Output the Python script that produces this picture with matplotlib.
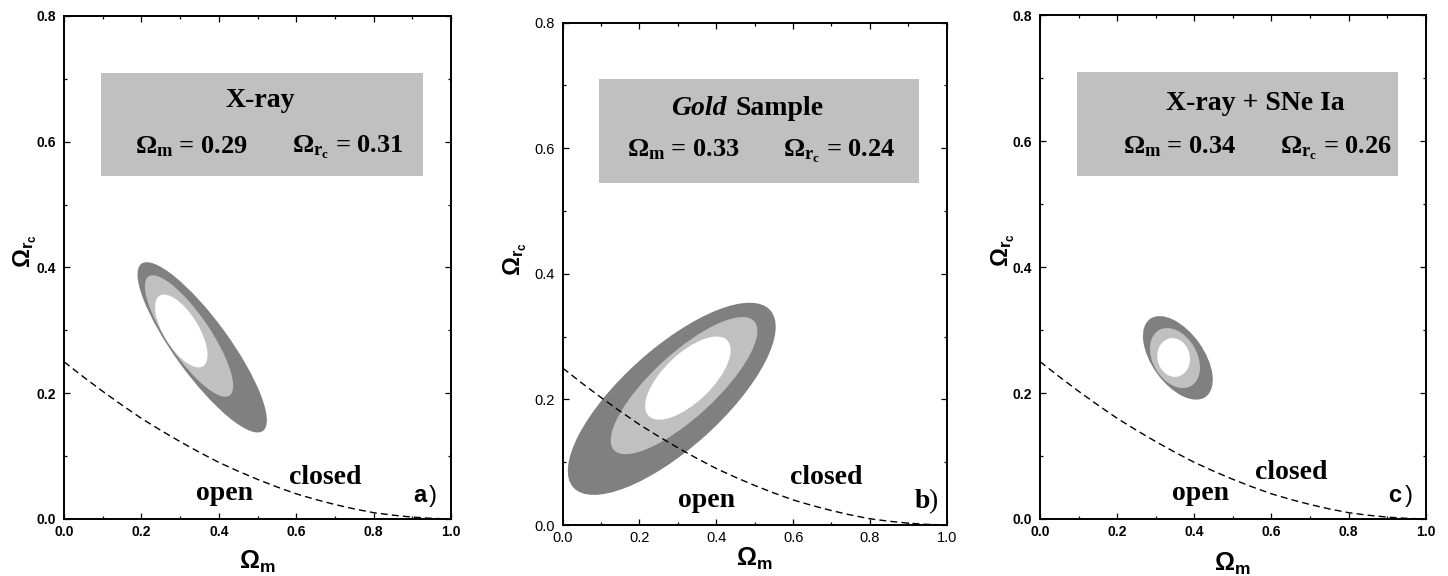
import numpy as np
from matplotlib import pyplot as plt
from matplotlib.patches import Ellipse, Rectangle
from matplotlib.transforms import Affine2D

plt.rcParams['font.family'] = 'Liberation Sans'
plt.rcParams['mathtext.fontset'] = 'custom'
plt.rcParams['mathtext.rm'] = 'Liberation Serif'
plt.rcParams['mathtext.bf'] = 'Liberation Serif:bold'
plt.rcParams['mathtext.it'] = 'Liberation Serif:italic'
plt.rcParams['mathtext.sf'] = 'Liberation Sans:bold'

# flat-universe boundary (dashed)
flat_om = [0.0, 0.05, 0.1, 0.15, 0.2, 0.25, 0.3, 0.35, 0.4, 0.45, 0.5,
           0.55, 0.6, 0.65, 0.7, 0.75, 0.8, 0.85, 0.9, 0.95, 1.0]
flat_orc = [0.250, 0.226, 0.203, 0.181, 0.160, 0.141, 0.123, 0.106, 0.090, 0.076, 0.063,
            0.051, 0.040, 0.031, 0.023, 0.016, 0.010, 0.006, 0.003, 0.001, 0.0]

# confidence regions: outer (dark), middle (light), inner (white)
# centre (Omega_m, Omega_rc), semi-axes in Omega_m units, tilt on screen (deg)
a_cx = [0.357, 0.323, 0.303]
a_cy = [0.273, 0.291, 0.299]
a_semi1 = [0.267, 0.186, 0.107]
a_semi2 = [0.071, 0.055, 0.045]
a_tilt = [-54.0, -55.8, -58.5]

b_cx = [0.284, 0.316, 0.326]
b_cy = [0.201, 0.222, 0.234]
b_semi1 = [0.345, 0.248, 0.142]
b_semi2 = [0.130, 0.083, 0.063]
b_tilt = [42.0, 42.6, 43.8]

c_cx = [0.3575, 0.350, 0.3466]
c_cy = [0.2559, 0.2556, 0.2565]
c_semi1 = [0.124, 0.0835, 0.0506]
c_semi2 = [0.0674, 0.0573, 0.042]
c_tilt = [-54.5, -60.0, -78.0]

best_om = [0.29, 0.33, 0.34]
best_orc = [0.31, 0.24, 0.26]
titles = ['X-ray', 'Sample', 'X-ray + SNe Ia']
tags = ['a', 'b', 'c']

xt = [0.0, 0.2, 0.4, 0.6, 0.8, 1.0]
yt = [0.0, 0.2, 0.4, 0.6, 0.8]

W, H = 1448, 576


def panel(ax, cx, cy, s1, s2, tilt, bold):
    ax.set_xlim(0, 1.0)
    ax.set_ylim(0, 0.8)
    pos = ax.get_position()
    k = (pos.height * H / 0.8) / (pos.width * W)   # y pixels per unit / x pixels per unit
    for i, col in enumerate(['#808080', '#c0c0c0', 'white']):
        tr = Affine2D().scale(1, 1 / k).translate(cx[i], cy[i]) + ax.transData
        ax.add_patch(Ellipse((0, 0), 2 * s1[i], 2 * s2[i], angle=tilt[i],
                             facecolor=col, edgecolor='none', transform=tr, zorder=2))
    ax.plot(flat_om, flat_orc, color='black', lw=1.0, ls=(0, (5, 3)), zorder=3)
    ax.add_patch(Rectangle((0.095, 0.545), 0.832, 0.165, facecolor='#c0c0c0',
                           edgecolor='none', zorder=1))
    w = 'bold' if bold else 'normal'
    fs = 10 if bold else 10.5
    ax.set_xticks(xt, ['%.1f' % v for v in xt], fontweight=w, fontsize=fs)
    ax.set_yticks(yt, ['%.1f' % v for v in yt], fontweight=w, fontsize=fs)
    ax.set_xticks(np.arange(0.1, 1.0, 0.2), minor=True)
    ax.set_yticks(np.arange(0.1, 0.8, 0.2), minor=True)
    ax.tick_params(which='both', direction='in', top=True, right=True, width=0.9)
    ax.tick_params(which='major', length=4.5, pad=4)
    ax.tick_params(which='minor', length=2.5)
    ax.tick_params(axis='y', pad=5.5)
    for s in ax.spines.values():
        s.set_linewidth(1.4)


fig = plt.figure(figsize=(W / 100, H / 100), dpi=100)
ax1 = fig.add_axes([0.0442, 0.0990, 0.2673, 0.8733])
ax2 = fig.add_axes([0.3886, 0.0885, 0.2652, 0.8721])
ax3 = fig.add_axes([0.7182, 0.0990, 0.2664, 0.8744])
axes = [ax1, ax2, ax3]

panel(ax1, a_cx, a_cy, a_semi1, a_semi2, a_tilt, True)
panel(ax2, b_cx, b_cy, b_semi1, b_semi2, b_tilt, False)
panel(ax3, c_cx, c_cy, c_semi1, c_semi2, c_tilt, True)

serif = 'Liberation Serif'
# box titles
ax1.text(0.507, 0.655, titles[0], family=serif, weight='bold', fontsize=20,
         ha='center', va='baseline', zorder=4)
ax2.text(0.427, 0.653, 'Gold', family=serif, weight='bold', style='italic', fontsize=20,
         ha='right', va='baseline', zorder=4)
ax2.text(0.449, 0.653, titles[1], family=serif, weight='bold', fontsize=20,
         ha='left', va='baseline', zorder=4)
ax3.text(0.558, 0.649, titles[2], family=serif, weight='bold', fontsize=20,
         ha='center', va='baseline', zorder=4)

# best fit values
val_pos = [(0.184, 0.589, 0.582), (0.167, 0.575, 0.587), (0.214, 0.621, 0.580)]
for ax, om, orc, (x1, x2, yb) in zip(axes, best_om, best_orc, val_pos):
    ax.text(x1, yb, r'$\mathbf{\Omega_m}$ = %.2f' % om, family=serif, weight='bold',
            fontsize=19, ha='left', va='baseline', zorder=4)
    ax.text(x2, yb, r'$\mathbf{\Omega_{r_c}}$ = %.2f' % orc, family=serif, weight='bold',
            fontsize=19, ha='left', va='baseline', zorder=4)

# open / closed labels
oc_pos = [(0.341, 0.030, 0.581, 0.055), (0.301, 0.028, 0.592, 0.066), (0.343, 0.030, 0.557, 0.063)]
for ax, (xo, yo, xc, yc) in zip(axes, oc_pos):
    ax.text(xo, yo, 'open', family=serif, weight='bold', fontsize=20, ha='left', va='baseline', zorder=4)
    ax.text(xc, yc, 'closed', family=serif, weight='bold', fontsize=20, ha='left', va='baseline', zorder=4)

# panel tags
ax1.text(0.903, 0.0275, tags[0], weight='bold', fontsize=17, ha='left', va='baseline')
ax1.text(0.942, 0.0275, ')', fontsize=17, ha='left', va='baseline')
ax2.text(0.917, 0.0276, tags[1], family=serif, weight='bold', fontsize=20, ha='left', va='baseline')
ax2.text(0.952, 0.0276, ')', family=serif, fontsize=20, ha='left', va='baseline')
ax3.text(0.903, 0.0275, tags[2], weight='bold', fontsize=17, ha='left', va='baseline')
ax3.text(0.946, 0.0275, ')', fontsize=17, ha='left', va='baseline')

# axis labels
xl_pos = [-0.060, -0.041, -0.063]
yl_pos = [(-0.100, 0.533), (-0.123, 0.530), (-0.095, 0.534)]
for ax, xy, (yx, yy) in zip(axes, xl_pos, yl_pos):
    ax.text(0.5, xy, r'$\mathsf{\Omega_m}$', fontsize=18, ha='center', va='top',
            transform=ax.transAxes)
    ax.text(yx, yy, r'$\mathsf{\Omega_{r_c}}$', fontsize=17, ha='center', va='center',
            rotation=90, transform=ax.transAxes)

fig.savefig('out.png', dpi=100)
